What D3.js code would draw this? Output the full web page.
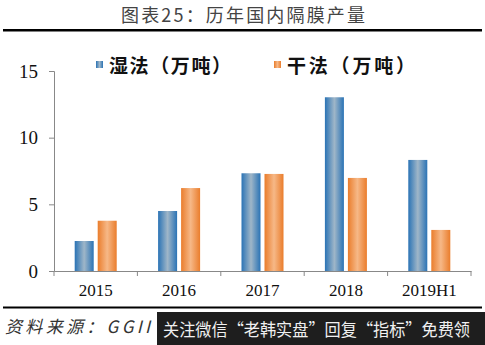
<!DOCTYPE html>
<html><head><meta charset="utf-8">
<script src="https://cdn.jsdelivr.net/npm/d3@7"></script>
<style>body{margin:0;background:#fff}svg{display:block}</style>
</head><body>
<script>
const categories = ["2015","2016","2017","2018","2019H1"];
const seriesNames = ["湿法（万吨）","干法（万吨）"];
const wetValues = [2.25, 4.5, 7.33, 13.03, 8.33];
const dryValues = [3.77, 6.22, 7.28, 6.98, 3.08];
const yTicks = [0, 5, 10, 15];

const W = 485, H = 345;
const svg = d3.select("body").append("svg").attr("width", W).attr("height", H);
const defs = svg.append("defs");
function grad(id, edge, mid) {
  const g = defs.append("linearGradient").attr("id", id).attr("x1","0%").attr("x2","100%").attr("y1","0%").attr("y2","0%");
  g.append("stop").attr("offset","0%").attr("stop-color", edge);
  g.append("stop").attr("offset","50%").attr("stop-color", mid);
  g.append("stop").attr("offset","100%").attr("stop-color", edge);
}
grad("gBlue", "#2a73b5", "#9fb6c8");
grad("gOrange", "#ea7d2c", "#f6b887");

// Title
svg.append("text").attr("x", 121).attr("y", 22)
  .attr("font-family","'Noto Sans CJK SC'").attr("font-size", 18).attr("fill","#444")
  .attr("textLength", 244).attr("lengthAdjust","spacing")
  .text("图表25：历年国内隔膜产量");
svg.append("rect").attr("x",3).attr("y",29).attr("width",479).attr("height",2.5).attr("fill","#000");

const x = d3.scaleBand().domain(categories).range([54, 471]).paddingInner(0).paddingOuter(0);
const y = d3.scaleLinear().domain([0, 15]).range([271, 71]);

// Axes
const yAxis = svg.append("g").attr("transform","translate(54,0)")
  .call(d3.axisLeft(y).tickValues(yTicks).tickSize(5).tickPadding(11).tickFormat(d3.format("d")));
yAxis.select(".domain").attr("stroke","#888");
yAxis.selectAll(".tick line").attr("stroke","#888");
yAxis.selectAll("text").attr("font-family","'Liberation Serif'").attr("font-size",19).attr("fill","#111");

const xAxis = svg.append("g").attr("transform","translate(0,271)")
  .call(d3.axisBottom(x).tickSize(0).tickPadding(13).tickSizeOuter(0));
xAxis.select(".domain").attr("stroke","#888");
xAxis.selectAll("text").attr("font-family","'Liberation Serif'").attr("font-size",17).attr("fill","#111");
// category boundary ticks
svg.append("g").selectAll("line").data(categories.concat(["_end"])).join("line")
  .attr("x1", (d,i) => i < categories.length ? x(d) : x.range()[1])
  .attr("x2", (d,i) => i < categories.length ? x(d) : x.range()[1])
  .attr("y1", 271).attr("y2", 276).attr("stroke","#888");

// Bars
const bw = 19, gap = 4;
const groupW = bw*2 + gap;
const off = (x.bandwidth() - groupW)/2;
const gBars = svg.append("g");
gBars.selectAll(".wet").data(categories).join("rect")
  .attr("x", d => x(d) + off).attr("width", bw)
  .attr("y", (d,i) => y(wetValues[i])).attr("height", (d,i) => y(0) - y(wetValues[i]))
  .attr("fill","url(#gBlue)");
gBars.selectAll(".dry").data(categories).join("rect")
  .attr("x", d => x(d) + off + bw + gap).attr("width", bw)
  .attr("y", (d,i) => y(dryValues[i])).attr("height", (d,i) => y(0) - y(dryValues[i]))
  .attr("fill","url(#gOrange)");

// Legend
const legend = svg.append("g");
const legX = [96, 274];
const legLen = [122, 128];
const legFill = ["url(#gBlue)","url(#gOrange)"];
seriesNames.forEach((n,i) => {
  legend.append("rect").attr("x", legX[i]).attr("y", 61).attr("width", 7).attr("height", 7).attr("fill", legFill[i]);
  legend.append("text").attr("x", legX[i] + 13).attr("y", 73)
    .attr("font-family","'Noto Sans CJK SC'").attr("font-weight","bold").attr("font-size",19).attr("fill","#111")
    .attr("textLength", legLen[i]).attr("lengthAdjust","spacing")
    .text(n);
});

// Bottom rule
svg.append("rect").attr("x",3).attr("y",306.5).attr("width",479).attr("height",2).attr("fill","#000");

// Source
svg.append("text").attr("x", 5).attr("y", 333)
  .attr("font-family","'Noto Sans CJK SC'").attr("font-style","italic").attr("font-size",17).attr("fill","#333")
  .attr("textLength", 145).attr("lengthAdjust","spacing")
  .text("资料来源：GGII");

// Watermark overlay
svg.append("rect").attr("x",157).attr("y",312).attr("width",328).attr("height",33).attr("fill","#1e1e1e");
svg.append("text").attr("x", 163).attr("y", 336)
  .attr("font-family","'Noto Sans CJK SC'").attr("font-size",17).attr("fill","#f0f0f0")
  .attr("textLength", 307).attr("lengthAdjust","spacingAndGlyphs")
  .text("关注微信“老韩实盘”回复“指标”免费领");
</script>
</body></html>
